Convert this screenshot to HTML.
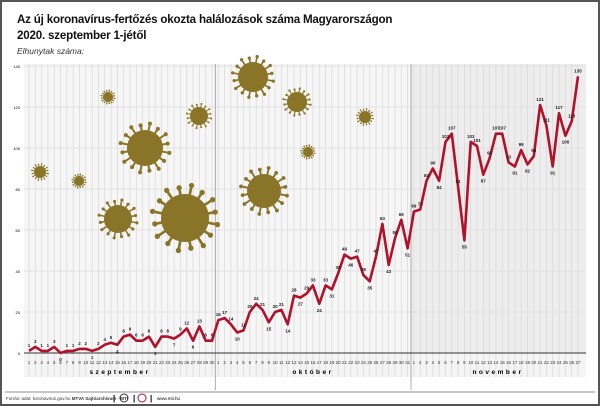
<!DOCTYPE html><html><head><meta charset="utf-8"><style>
body{margin:0;width:600px;height:406px;overflow:hidden;background:#fff;font-family:"Liberation Sans",sans-serif}
#f{position:absolute;left:0;top:0;width:596px;height:402px;border:2px solid #555}
.t{position:absolute;left:17px;font-weight:bold;font-size:11.6px;color:#111;letter-spacing:-0.2px}
</style></head><body><div id="f"></div>
<div class="t" style="top:13px">Az új koronavírus-fertőzés okozta halálozások száma Magyarországon</div>
<div class="t" style="top:29px">2020. szeptember 1-jétől</div>
<div style="position:absolute;left:17px;top:46px;font-size:8.5px;font-style:italic;color:#333">Elhunytak száma:</div>
<svg id="s" width="600" height="406" style="position:absolute;left:0;top:0"></svg>
<script>
var d=[1,3,1,1,3,0,1,1,2,2,1,2,4,5,4,8,9,6,6,8,3,8,8,7,9,12,6,13,6,6,
16,17,14,10,11,20,24,21,15,20,21,14,28,27,29,33,24,33,31,39,48,46,47,38,35,47,63,43,56,65,51,
69,70,84,90,84,103,107,81,55,103,101,87,95,107,107,93,91,99,92,96,121,111,91,117,106,113,135];
var X=i=>29+i*6.31,Y=v=>353-v*2.05,h='';
h+='<rect x="24" y="64" width="562" height="289" fill="#f6f6f6"/>';
h+='<rect x="411" y="64" width="175" height="289" fill="#ededed"/>';
h+='<rect x="24" y="353" width="562" height="24" fill="#f4f4f4"/>';
for(var i=0;i<88;i++)h+='<line x1="'+X(i)+'" y1="64" x2="'+X(i)+'" y2="377" stroke="#d8d8d8" stroke-width="0.7"/>';
for(var v=20;v<=140;v+=20)h+='<line x1="24" y1="'+Y(v)+'" x2="586" y2="'+Y(v)+'" stroke="#ddd" stroke-width="0.7"/><text x="20" y="'+(Y(v)+2)+'" font-size="4" text-anchor="end">'+v+'</text>';
h+='<text x="20" y="355" font-size="4" text-anchor="end">0</text>';
[215.3,411].forEach(x=>h+='<line x1="'+x+'" y1="64" x2="'+x+'" y2="390" stroke="#999" stroke-width="0.8"/>');
h+='<line x1="24" y1="353" x2="586" y2="353" stroke="#333" stroke-width="1"/>';
var vir=[[40,172,6],[79,181,5],[108,97,5],[118,219,14],[145,148,18],[185,218,24],[199,116,9],[253,77,15],[264,191,17],[297,102,10],[308,152,5],[365,117,6]];
vir.forEach(function(c){var r=c[2],n=16;h+='<g fill="#8a7427" stroke="#8a7427">';for(var k=0;k<n;k++){var a=k/n*6.283+0.2,x1=c[0]+Math.cos(a)*r*0.8,y1=c[1]+Math.sin(a)*r*0.8,L=(k%2?1.28:1.38),x2=c[0]+Math.cos(a)*r*L,y2=c[1]+Math.sin(a)*r*L;h+='<line x1="'+x1+'" y1="'+y1+'" x2="'+x2+'" y2="'+y2+'" stroke-width="'+Math.max(0.8,r/9)+'"/><circle cx="'+x2+'" cy="'+y2+'" r="'+Math.max(0.8,r/9)+'" stroke="none"/>'}h+='<circle cx="'+c[0]+'" cy="'+c[1]+'" r="'+r+'" stroke="none"/></g>'});
var p=d.map((v,i)=>X(i).toFixed(1)+','+Y(v).toFixed(1)).join(' ');
h+='<polyline points="'+p+'" fill="none" stroke="#b3112a" stroke-width="2.6" stroke-linejoin="round"/>';
d.forEach(function(v,i){var dn=(i>0&&d[i-1]>v)&&(i<87&&d[i+1]>v);h+='<text x="'+X(i)+'" y="'+(dn?Y(v)+8:Y(v)-4)+'" font-size="4.5" font-weight="bold" text-anchor="middle" fill="#222">'+v+'</text>';
var day=i<30?i+1:i<61?i-29:i-60;h+='<text x="'+X(i)+'" y="364" font-size="4.5" text-anchor="middle" fill="#333">'+day+'</text>'});
h+='<text x="120" y="374" font-size="6.5" font-weight="bold" text-anchor="middle" letter-spacing="2.5">szeptember</text>';
h+='<text x="313" y="374" font-size="6.5" font-weight="bold" text-anchor="middle" letter-spacing="2.5">október</text>';
h+='<text x="498" y="374" font-size="6.5" font-weight="bold" text-anchor="middle" letter-spacing="2.5">november</text>';
h+='<line x1="5" y1="392" x2="595" y2="392" stroke="#666" stroke-width="0.8"/>';
h+='<text x="6" y="400" font-size="4.5" fill="#333">Forrás: adat: koronavirus.gov.hu  <tspan font-weight="bold">MTVA Sajtóarchívum · MTI</tspan></text>';
h+='<text x="113" y="401" font-size="8" font-weight="bold">|</text><circle cx="124" cy="398" r="4" fill="none" stroke="#333"/><text x="133" y="401" font-size="8" font-weight="bold">|</text><circle cx="142" cy="398" r="4" fill="none" stroke="#b3112a"/><text x="150" y="401" font-size="8" font-weight="bold">|</text><text x="157" y="400" font-size="4.5">www.mti.hu</text>';
document.getElementById('s').innerHTML=h;
</script></body></html>
